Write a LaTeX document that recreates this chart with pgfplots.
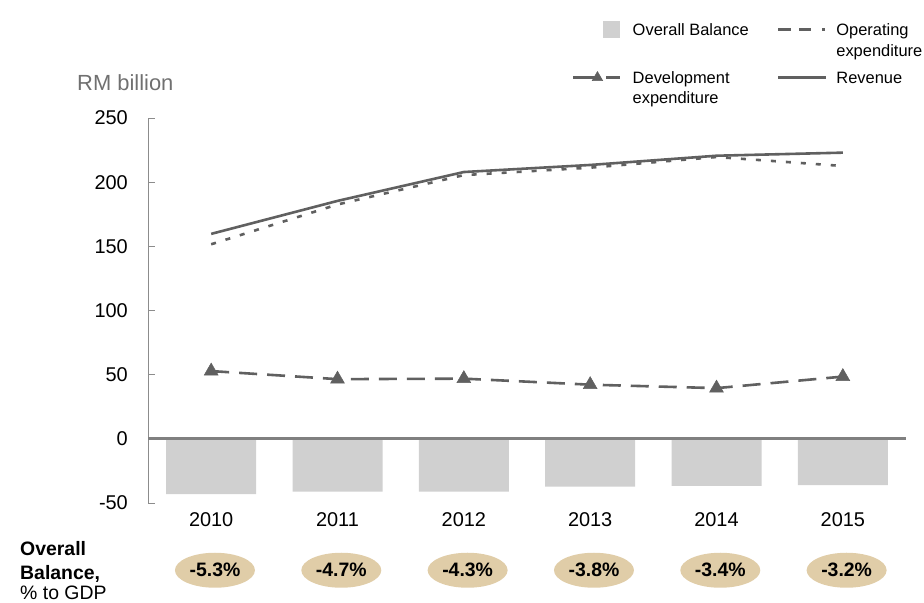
\documentclass[border=0pt]{standalone}
\usepackage{pgfplots}
\pgfplotsset{compat=1.18}
\usepackage{fontspec}
\setmainfont{Liberation Sans}
\usetikzlibrary{shapes.geometric}
\definecolor{linegray}{HTML}{606060}
\definecolor{bargray}{HTML}{D0D0D0}
\definecolor{tanfill}{HTML}{E0CDA8}
\definecolor{axisgray}{HTML}{8C8C8C}
\definecolor{zerogray}{HTML}{808080}
\definecolor{labelgray}{HTML}{707070}

\begin{document}
\begin{tikzpicture}
\useasboundingbox (0,0) rectangle (924bp,603bp);
\begin{axis}[
  at={(148bp,100bp)}, anchor=south west,
  scale only axis, width=758bp, height=385bp,
  xmin=-0.5, xmax=5.5, ymin=-50, ymax=250,
  clip=false,
  axis y line*=left, axis x line*=bottom,
  x axis line style={draw=none},
  y axis line style={axisgray, line width=0.9bp},
  xtick={0,1,2,3,4,5}, xticklabels={2010,2011,2012,2013,2014,2015},
  ytick={-50,0,50,100,150,200,250},
  x tick style={draw=none},
  y tick style={axisgray, line width=0.9bp},
  major tick length=7bp,
  tick align=inside,
  tick label style={font=\fontsize{20}{24}\selectfont},
  yticklabel style={inner sep=0pt, xshift=-20bp},
  xticklabel style={yshift=-6bp},
  /pgf/number format/assume math mode=true,
  legend columns=2,
  legend style={at={(0.5593,1.2519)}, anchor=north west, draw=none, fill=none,
    font=\fontsize{16.5}{20.5}\selectfont, row sep=31bp, inner sep=0pt,
    nodes={inner sep=0pt}, cells={anchor=base west},
    /tikz/column 1/.style={column sep=10bp},
    /tikz/column 2/.style={column sep=28bp},
    /tikz/column 3/.style={column sep=9bp}},
]
% Overall balance bars
\addplot[ybar, bar width=90bp, fill=bargray, draw=none,
  legend image code/.code={\fill[bargray] (30bp,-2.5bp) rectangle (47bp,14.5bp); \path[fill=none, draw=none] (0bp,0bp) -- (48bp,0bp);}]
  coordinates {(0,-43) (1,-41.2) (2,-41.2) (3,-37.3) (4,-36.6) (5,-36.0)};
\addlegendentry{Overall Balance}
% Operating expenditure
\addplot[linegray, line width=2.6bp, dash pattern=on 5bp off 10bp, no marks,
  legend image code/.code={\draw[linegray, line width=2.6bp, dash pattern=on 13bp off 8bp on 12bp off 11bp on 2.5bp] (0bp,6bp) -- (47bp,6bp);}]
  coordinates {(0,151.6) (1,182.6) (2,205.5) (3,211.3) (4,219.6) (5,212.6)};
\addlegendentry{\begin{tabular}[t]{@{}l@{}}Operating\\expenditure\end{tabular}}
% Development expenditure
\addplot[linegray, line width=2.6bp, dash pattern=on 18bp off 10bp, mark=triangle*, mark size=8bp,
  mark options={solid, fill=linegray, draw=linegray, line width=0.5bp},
  legend image code/.code={\draw[linegray, line width=2.6bp, dash pattern=on 22bp off 11bp on 14bp] (0bp,6bp) -- (48bp,6bp);
     \draw[linegray, fill=linegray, solid, line width=0.5bp] plot[mark=triangle*, mark size=6bp] coordinates {(24bp,6bp)};}]
  coordinates {(0,52.8) (1,46.5) (2,46.9) (3,42.2) (4,39.5) (5,48.5)};
\addlegendentry{\begin{tabular}[t]{@{}l@{}}Development\\expenditure\end{tabular}}
% Revenue
\addplot[linegray, line width=2.6bp, no marks,
  legend image code/.code={\draw[linegray, line width=2.6bp] (0bp,6bp) -- (48bp,6bp);}]
  coordinates {(0,159.7) (1,185.4) (2,207.9) (3,213.4) (4,220.6) (5,223.0)};
\addlegendentry{Revenue}
% zero line
\draw[zerogray, line width=3bp] (axis cs:-0.5,0) -- (axis cs:5.5,0);
% ellipses with % of GDP
\tikzset{pct/.style={ellipse, fill=tanfill, minimum width=80bp, minimum height=35bp, inner sep=0pt,
  font=\bfseries\fontsize{19.5}{22}\selectfont}}
\node[pct] at (axis cs:0.03,-102.4) {-5.3\%};
\node[pct] at (axis cs:1.03,-102.4) {-4.7\%};
\node[pct] at (axis cs:2.03,-102.4) {-4.3\%};
\node[pct] at (axis cs:3.03,-102.4) {-3.8\%};
\node[pct] at (axis cs:4.03,-102.4) {-3.4\%};
\node[pct] at (axis cs:5.03,-102.4) {-3.2\%};
\end{axis}
\node[anchor=base west, inner sep=0pt, text=labelgray, font=\fontsize{22}{26}\selectfont] at (77bp,512bp) {RM billion};
\node[anchor=base west, inner sep=0pt, font=\bfseries\fontsize{19.5}{22}\selectfont] at (20bp,47bp) {Overall};
\node[anchor=base west, inner sep=0pt, font=\bfseries\fontsize{19.5}{22}\selectfont] at (20bp,23.5bp) {Balance,};
\node[anchor=base west, inner sep=0pt, font=\fontsize{19.5}{22}\selectfont] at (20bp,3.5bp) {\% to GDP};
\end{tikzpicture}
\end{document}
